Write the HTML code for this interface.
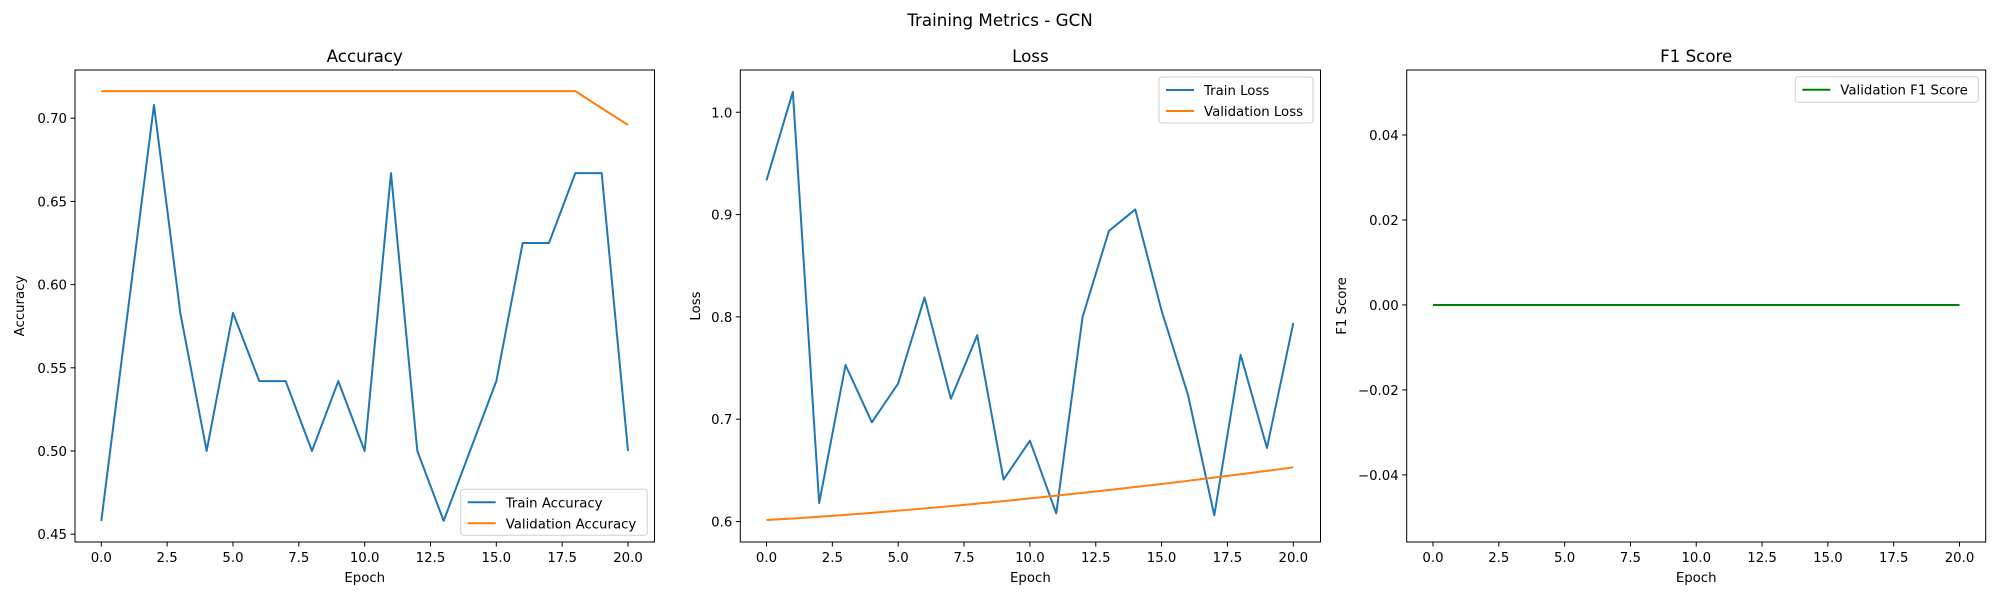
<!DOCTYPE html>
<html><head><meta charset="utf-8"><style>
html,body{margin:0;padding:0;background:#fff;}
svg{display:block;font-family:"DejaVu Sans","Liberation Sans",sans-serif;}
</style></head><body>
<svg id="chart" width="2000" height="600" viewBox="0 0 2000 600" xmlns="http://www.w3.org/2000/svg">
<text x="1000" y="26" font-size="16.7" text-anchor="middle">Training Metrics - GCN</text>
</svg>
<script>
const epochs = [0,1,2,3,4,5,6,7,8,9,10,11,12,13,14,15,16,17,18,19,20];
const trainAcc = [0.458,0.583,0.708,0.583,0.5,0.583,0.542,0.542,0.5,0.542,0.5,0.667,0.5,0.458,0.5,0.542,0.625,0.625,0.667,0.667,0.5];
const valAcc = [0.7163,0.7163,0.7163,0.7163,0.7163,0.7163,0.7163,0.7163,0.7163,0.7163,0.7163,0.7163,0.7163,0.7163,0.7163,0.7163,0.7163,0.7163,0.7163,0.706,0.696];
const trainLoss = [0.9335,1.02,0.618,0.753,0.697,0.735,0.819,0.720,0.782,0.641,0.679,0.608,0.800,0.884,0.905,0.806,0.724,0.606,0.763,0.672,0.794];
const valLoss = [0.6015,0.6030,0.6047,0.6065,0.6085,0.6106,0.6128,0.6151,0.6175,0.6200,0.6226,0.6253,0.6280,0.6308,0.6337,0.6367,0.6398,0.6430,0.6462,0.6495,0.6530];
const valF1 = [0,0,0,0,0,0,0,0,0,0,0,0,0,0,0,0,0,0,0,0,0];
const xTicks = [0,2.5,5,7.5,10,12.5,15,17.5,20];
const xTickLabels = ["0.0","2.5","5.0","7.5","10.0","12.5","15.0","17.5","20.0"];
const accTicks = [0.45,0.50,0.55,0.60,0.65,0.70];
const accTickLabels = ["0.45","0.50","0.55","0.60","0.65","0.70"];
const lossTicks = [0.6,0.7,0.8,0.9,1.0];
const lossTickLabels = ["0.6","0.7","0.8","0.9","1.0"];
const f1Ticks = [-0.04,-0.02,0,0.02,0.04];
const f1TickLabels = ["\u22120.04","\u22120.02","0.00","0.02","0.04"];

const NS = "http://www.w3.org/2000/svg";
const svg = document.getElementById('chart');
const FS = 13.3;
function mk(tag, attrs, parent) {
  const e = document.createElementNS(NS, tag);
  for (const k in attrs) e.setAttribute(k, attrs[k]);
  (parent || svg).appendChild(e);
  return e;
}

function panel(cfg) {
  const g = mk('g', {});
  
  
  const L = cfg.left, R = cfg.right, T = 70, B = 542;
  const xScale = v => cfg.x0 + (v - 0) * (cfg.x20 - cfg.x0) / 20;
  const yScale = v => B - (v - cfg.ymin) * (B - T) / (cfg.ymax - cfg.ymin);
  xTicks.forEach((t, i) => {
    const x = xScale(t);
    const tk = mk('line', {x1: x, x2: x, y1: B, y2: B + 4.5, stroke: '#000', 'stroke-width': 1}, g);
    
    
    const lb = mk('text', {x: x, y: B + 20, 'font-size': FS, 'text-anchor': 'middle'}, g);
    lb.textContent = xTickLabels[i];
    
    
  });
  cfg.yTicks.forEach((t, i) => {
    const y = yScale(t);
    const tk = mk('line', {x1: L - 4.5, x2: L, y1: y, y2: y, stroke: '#000', 'stroke-width': 1}, g);
    
    
    const lb = mk('text', {x: L - 8, y: y + 5, 'font-size': FS, 'text-anchor': 'end'}, g);
    lb.textContent = cfg.yTickLabels[i];
    
    
  });
  cfg.series.forEach(s => {
    const pts = epochs.map((e, i) => xScale(e).toFixed(2) + ',' + yScale(s.data[i]).toFixed(2)).join(' ');
    const pl = mk('polyline', {points: pts, fill: 'none', stroke: s.color, 'stroke-width': 2, 'stroke-linejoin': 'round'}, g);
    
    
  });
  const fr = mk('rect', {x: L, y: T, width: R - L, height: B - T, fill: 'none', stroke: '#000', 'stroke-width': 1}, g);
  
  
  const tt = mk('text', {x: (L + R) / 2, y: 62, 'font-size': 16.7, 'text-anchor': 'middle'}, g);
  tt.textContent = cfg.title;
  
  
  const xl = mk('text', {x: (L + R) / 2, y: 582, 'font-size': FS, 'text-anchor': 'middle'}, g);
  xl.textContent = 'Epoch';
  
  
  const yl = mk('text', {x: cfg.ylabelX, y: (T + B) / 2, 'font-size': FS, 'text-anchor': 'middle', transform: 'rotate(-90 ' + cfg.ylabelX + ' ' + (T + B) / 2 + ')'}, g);
  yl.textContent = cfg.ylabel;
  
  
  const lg = cfg.legend;
  const lgG = mk('g', {}, g);
  
  
  mk('rect', {x: lg.x, y: lg.y, width: lg.w, height: lg.h, rx: 3, fill: '#fff', 'fill-opacity': 0.8, stroke: '#d0d0d0', 'stroke-width': 1}, lgG);
  cfg.series.forEach((s, i) => {
    const yy = lg.y + 13 + i * 21;
    const ln = mk('line', {x1: lg.x + 7, x2: lg.x + 35, y1: yy, y2: yy, stroke: s.color, 'stroke-width': 2}, lgG);
    
    
    const tx = mk('text', {x: lg.x + 45, y: yy + 5, 'font-size': FS}, lgG);
    tx.textContent = s.label;
    
    
  });
}

panel({name: 'accuracy', title: 'Accuracy', ylabel: 'Accuracy', left: 75, right: 654.5, x0: 101.3, x20: 628, ymin: 0.4453, ymax: 0.729, ylabelX: 24,
  yTicks: accTicks, yTickLabels: accTickLabels,
  series: [{id: 'train-accuracy', label: 'Train Accuracy', color: '#1f77b4', data: trainAcc},
           {id: 'validation-accuracy', label: 'Validation Accuracy', color: '#ff7f0e', data: valAcc}],
  legend: {x: 460.7, y: 489.3, w: 186.6, h: 46}});
panel({name: 'loss', title: 'Loss', ylabel: 'Loss', left: 740.3, right: 1320.5, x0: 766.5, x20: 1293.3, ymin: 0.580, ymax: 1.0413, ylabelX: 700,
  yTicks: lossTicks, yTickLabels: lossTickLabels,
  series: [{id: 'train-loss', label: 'Train Loss', color: '#1f77b4', data: trainLoss},
           {id: 'validation-loss', label: 'Validation Loss', color: '#ff7f0e', data: valLoss}],
  legend: {x: 1159, y: 77, w: 154, h: 46}});
panel({name: 'f1-score', title: 'F1 Score', ylabel: 'F1 Score', left: 1406.7, right: 1985.7, x0: 1433, x20: 1959.5, ymin: -0.0558, ymax: 0.0553, ylabelX: 1346,
  yTicks: f1Ticks, yTickLabels: f1TickLabels,
  series: [{id: 'validation-f1', label: 'Validation F1 Score', color: '#008000', data: valF1}],
  legend: {x: 1795.3, y: 76.7, w: 183, h: 25.6}});
</script>
</body></html>
